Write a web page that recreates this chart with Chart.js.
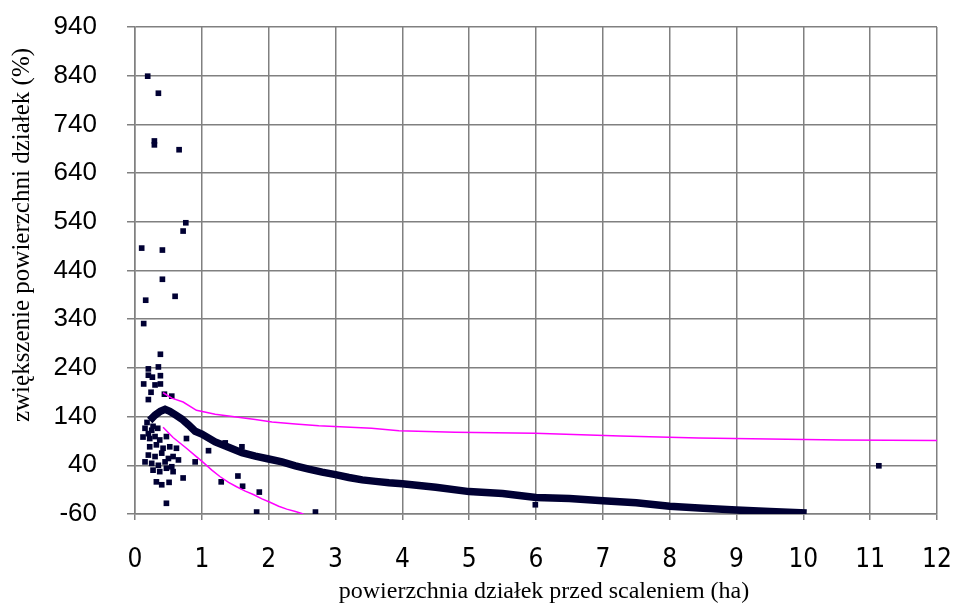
<!DOCTYPE html>
<html>
<head>
<meta charset="utf-8">
<script src="https://cdn.jsdelivr.net/npm/chart.js@4.4.0/dist/chart.umd.min.js"></script>
<style>
html,body{margin:0;padding:0;background:#ffffff;}
canvas{display:block;}
</style>
</head>
<body>
<canvas id="c" width="953" height="605"></canvas>
<script>
// ---- tick labels / titles ----
const xTickValues = [0,1,2,3,4,5,6,7,8,9,10,11,12];
const yTickValues = [-60,40,140,240,340,440,540,640,740,840,940];
const xTitle = 'powierzchnia działek przed scaleniem (ha)';
const yTitle = 'zwiększenie powierzchni działek (%)';

// ---- scattered observations (ha, %) ----
const pointsX = [0.19,0.35,0.29,0.29,0.66,0.76,0.72,0.10,0.41,0.41,0.16,0.60,0.13,0.38,0.20,0.35,0.20,0.26,0.38,0.13,0.30,0.38,0.24,0.20,0.44,0.55,
  0.15,0.25,0.34,0.12,0.22,0.30,0.37,0.47,0.22,0.32,0.42,0.52,0.62,0.20,0.30,0.40,0.50,0.57,0.15,0.25,0.35,0.45,0.55,0.65,0.27,0.37,0.47,0.57,0.72,0.32,0.40,0.51,0.47,0.77,0.90,0.18,0.27,0.20,
  1.10,1.35,1.60,1.29,1.54,1.61,1.86,1.82,2.70,5.99,11.13];
const pointsY = [839,804,706,698,688,538,521,486,482,422,379,387,331,268,238,242,225,221,224,207,205,207,190,175,186,182,
  116,112,116,98,95,99,92,99,78,82,75,78,75,61,58,65,54,58,47,44,40,47,37,51,30,27,34,27,14,6,0,5,-38,95,47,128,120,105,
  70,86,78,6,18,-3,-15,-56,-56,-41,39];

// ---- dense band of observations (ha, %) ----
const bandX = [0.22,0.3,0.38,0.45,0.52,0.6,0.7,0.8,0.9,1.0,1.2,1.4,1.6,1.8,2.0,2.2,2.4,2.6,2.8,3.0,3.2,3.4,3.6,3.8,4.0,4.5,5.0,5.5,6.0,6.5,7.0,7.5,8.0,8.5,9.0,9.5,10.05];
const bandY = [132,143,151,155,151,144,135,123,110,104,88,77,66,59,53,47,39,32,26,21,15,10,7,4,2,-5,-14,-18,-26,-28,-33,-37,-44,-48,-52,-55,-58];

// ---- upper magenta curve ----
const upperX = [0.42,0.55,0.72,0.92,1.2,1.4,1.8,2.05,2.4,2.75,3.54,3.95,4.79,5.98,7.26,8.43,10.55,12];
const upperY = [189,178,170,153,145,141,134,129,125,121,116,111,108,106,100,96,92,91];

// ---- lower magenta curve ----
const lowerX = [0.42,0.57,0.77,0.9,1.02,1.15,1.27,1.4,1.52,1.65,1.77,1.9,2.02,2.15,2.27,2.4,2.52];
const lowerY = [118,97,75,60,46,30,17,5,-4,-13,-20,-29,-36,-44,-50,-55,-60];

const toXY = (xs, ys) => xs.map((x, i) => ({x: x, y: ys[i]}));

const NAVY = '#000033';
const GRID = '#808080';
const MAGENTA = '#ff00ff';

const titlePlugin = {
  id: 'axisTitles',
  afterDraw(chart) {
    const ctx = chart.ctx;
    ctx.save();
    ctx.fillStyle = '#000000';
    ctx.textAlign = 'center';
    ctx.textBaseline = 'middle';
    ctx.font = '24px "Liberation Serif", "Times New Roman", serif';
    ctx.fillText(xTitle, 544, 592);
    ctx.font = '25px "Liberation Serif", "Times New Roman", serif';
    ctx.translate(22, 235);
    ctx.rotate(-Math.PI / 2);
    ctx.fillText(yTitle, 0, 0);
    ctx.restore();
  }
};

new Chart(document.getElementById('c'), {
  type: 'scatter',
  data: {
    datasets: [
      {
        label: 'band',
        data: toXY(bandX, bandY),
        showLine: true,
        borderColor: NAVY,
        borderWidth: 7.5,
        pointRadius: 0,
        tension: 0,
        order: 2
      },
      {
        label: 'points',
        data: toXY(pointsX, pointsY),
        pointStyle: 'rect',
        pointRadius: 4,
        pointBorderWidth: 0,
        backgroundColor: NAVY,
        borderColor: NAVY,
        order: 1
      },
      {
        label: 'upper',
        data: toXY(upperX, upperY),
        showLine: true,
        borderColor: MAGENTA,
        borderWidth: 1.5,
        pointRadius: 0,
        tension: 0,
        order: 0
      },
      {
        label: 'lower',
        data: toXY(lowerX, lowerY),
        showLine: true,
        borderColor: MAGENTA,
        borderWidth: 1.5,
        pointRadius: 0,
        tension: 0,
        order: 0
      }
    ]
  },
  options: {
    responsive: false,
    animation: false,
    events: [],
    layout: { padding: { top: 27, right: 16, left: 0, bottom: 0 } },
    plugins: {
      legend: { display: false },
      tooltip: { enabled: false },
      title: { display: false }
    },
    scales: {
      x: {
        type: 'linear',
        min: 0,
        max: 12,
        afterBuildTicks: (s) => { s.ticks = xTickValues.map(v => ({value: v})); },
        afterFit: (s) => { s.height = 91; s.paddingLeft = 0; s.paddingRight = 0; },
        grid: { color: GRID, lineWidth: 1.5, tickLength: 6, tickColor: GRID },
        border: { color: GRID, width: 1.5 },
        ticks: {
          color: '#000000',
          padding: 25,
          maxRotation: 0,
          autoSkip: false,
          font: { family: '"Liberation Sans Narrow", "DejaVu Sans Condensed", sans-serif', size: 26 }
        }
      },
      y: {
        type: 'linear',
        min: -60,
        max: 940,
        afterBuildTicks: (s) => { s.ticks = yTickValues.map(v => ({value: v})); },
        afterFit: (s) => { s.width = 135; s.paddingTop = 0; s.paddingBottom = 0; },
        grid: { color: GRID, lineWidth: 1.5, tickLength: 8, tickColor: GRID },
        border: { color: GRID, width: 1.5 },
        ticks: {
          color: '#000000',
          padding: 30,
          autoSkip: false,
          font: { family: '"Liberation Sans", Arial, sans-serif', size: 26 }
        }
      }
    }
  },
  plugins: [titlePlugin]
});
</script>
</body>
</html>
